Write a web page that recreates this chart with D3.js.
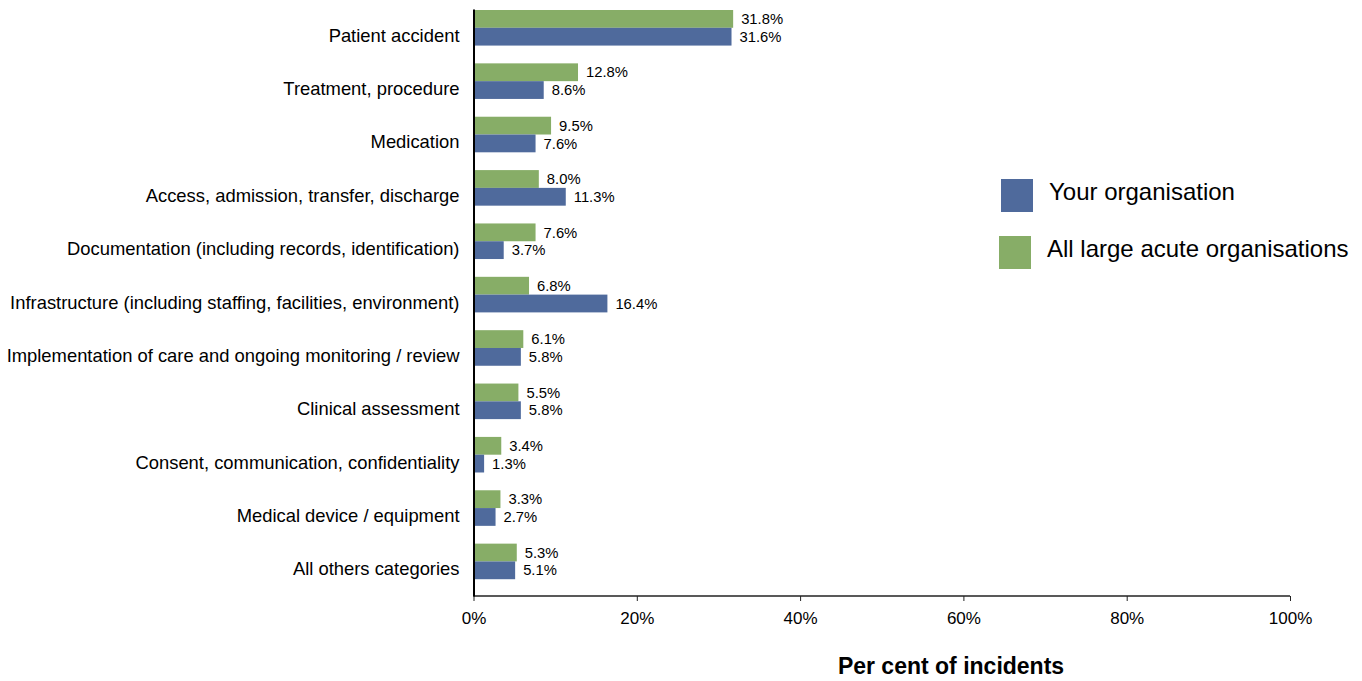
<!DOCTYPE html>
<html>
<head>
	<meta charset="utf-8">
	<style>
		html, body { margin: 0; padding: 0; background: white; }
		svg { display: block; font-family: "Liberation Sans", Arial, sans-serif; }
	</style>
</head>
<body>
<svg class="chart" width="1362" height="681"></svg>

<script src="https://d3js.org/d3.v7.min.js"></script>
<script>

// categories, top to bottom
var categories = [
	'Patient accident',
	'Treatment, procedure',
	'Medication',
	'Access, admission, transfer, discharge',
	'Documentation (including records, identification)',
	'Infrastructure (including staffing, facilities, environment)',
	'Implementation of care and ongoing monitoring / review',
	'Clinical assessment',
	'Consent, communication, confidentiality',
	'Medical device / equipment',
	'All others categories'
]

// per cent of incidents
var yourOrg = [31.6, 8.6, 7.6, 11.3, 3.7, 16.4, 5.8, 5.8, 1.3, 2.7, 5.1]
var allLarge = [31.8, 12.8, 9.5, 8.0, 7.6, 6.8, 6.1, 5.5, 3.4, 3.3, 5.3]

var seriesNames = ['Your organisation', 'All large acute organisations']
var xTicks = [0, 20, 40, 60, 80, 100]

var cfg = {
	left: 473.5,
	right: 1290,
	top: 9,
	bottom: 596,
	blue: '#4f6a9c',
	green: '#87ad67',
	catSize: 18.4,
	valSize: 14.8,
	tickSize: 17,
	legendSize: 24,
	titleSize: 23,
}

var svg = d3.select('.chart')

var x = d3.scaleLinear().domain([0, 100]).range([cfg.left, cfg.right])
var y = d3.scaleBand().domain(categories).range([cfg.top, cfg.bottom])
var bw = y.bandwidth() / 3

var rows = categories.map(function(c, i) {
	return { cat: c, your: yourOrg[i], all: allLarge[i] }
})

// green bars (all large acute) sit on top, blue (yours) just below
var g = svg.append('g')

g.selectAll('.all').data(rows).enter().append('rect')
	.attr('x', x(0))
	.attr('y', function(d) { return y(d.cat) + 1 })
	.attr('width', function(d) { return x(d.all) - x(0) })
	.attr('height', bw)
	.attr('fill', cfg.green)

g.selectAll('.your').data(rows).enter().append('rect')
	.attr('x', x(0))
	.attr('y', function(d) { return y(d.cat) + 1 + bw })
	.attr('width', function(d) { return x(d.your) - x(0) })
	.attr('height', bw)
	.attr('fill', cfg.blue)

// value labels
g.selectAll('.allLbl').data(rows).enter().append('text')
	.attr('x', function(d) { return x(d.all) + 8 })
	.attr('y', function(d) { return y(d.cat) + 1 + bw / 2 })
	.attr('dy', '0.35em')
	.attr('font-size', cfg.valSize)
	.text(function(d) { return d.all.toFixed(1) + '%' })

g.selectAll('.yourLbl').data(rows).enter().append('text')
	.attr('x', function(d) { return x(d.your) + 8 })
	.attr('y', function(d) { return y(d.cat) + 1 + bw * 1.5 })
	.attr('dy', '0.35em')
	.attr('font-size', cfg.valSize)
	.text(function(d) { return d.your.toFixed(1) + '%' })

// x axis
var xAxis = svg.append('g')
	.attr('transform', 'translate(0,' + cfg.bottom + ')')
	.call(d3.axisBottom(x).tickValues(xTicks).tickSize(5).tickPadding(11)
		.tickFormat(function(d) { return d + '%' }))
xAxis.select('.domain').attr('stroke', '#222').attr('stroke-width', 1.5)
	.attr('d', 'M' + x(0) + ',0H' + x(100))
xAxis.selectAll('.tick line').attr('stroke', '#222')
xAxis.selectAll('.tick text')
	.attr('font-size', cfg.tickSize).attr('font-family', '"Liberation Sans", Arial, sans-serif')
	.attr('fill', '#000')

// y axis (category labels)
var yAxis = svg.append('g')
	.attr('transform', 'translate(' + cfg.left + ',0)')
	.call(d3.axisLeft(y).tickSize(0).tickPadding(14))
yAxis.select('.domain').attr('stroke', '#000').attr('stroke-width', 2)
yAxis.selectAll('.tick text')
	.attr('font-size', cfg.catSize).attr('font-family', '"Liberation Sans", Arial, sans-serif')
	.attr('fill', '#000')
	.attr('dy', '0.33em')

// axis title
svg.append('text')
	.attr('x', 951)
	.attr('y', 674)
	.attr('text-anchor', 'middle')
	.attr('font-size', cfg.titleSize)
	.attr('font-weight', 'bold')
	.text('Per cent of incidents')

// legend
var legend = svg.append('g')
var legendRows = [
	{ name: seriesNames[0], color: cfg.blue, x: 1001, y: 179 },
	{ name: seriesNames[1], color: cfg.green, x: 999, y: 236 }
]
legend.selectAll('rect').data(legendRows).enter().append('rect')
	.attr('x', function(d) { return d.x })
	.attr('y', function(d) { return d.y })
	.attr('width', 32)
	.attr('height', 33)
	.attr('fill', function(d) { return d.color })
legend.selectAll('text').data(legendRows).enter().append('text')
	.attr('x', function(d) { return d.x + 48 })
	.attr('y', function(d) { return d.y + 13 })
	.attr('dy', '0.35em')
	.attr('font-size', cfg.legendSize)
	.text(function(d) { return d.name })

</script>
</body>
</html>
